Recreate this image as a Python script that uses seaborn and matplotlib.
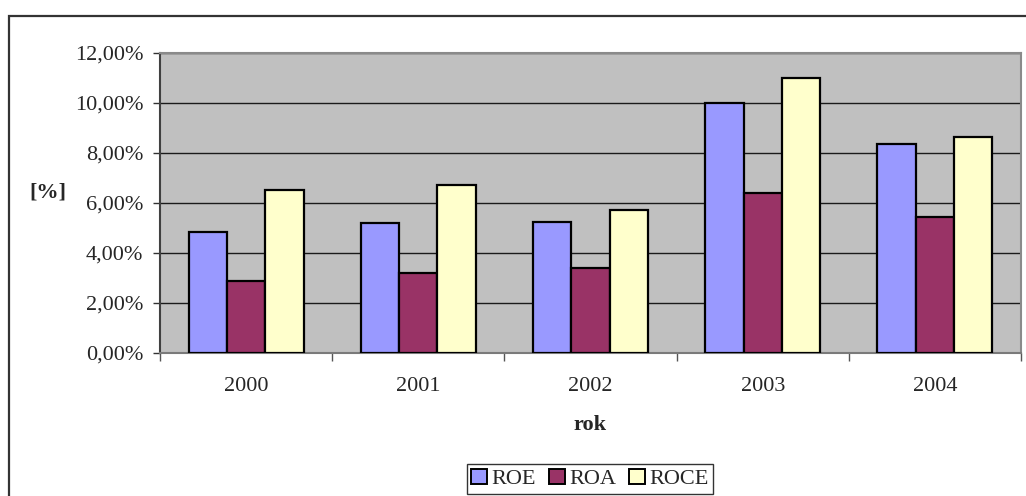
import matplotlib
matplotlib.use("Agg")
import matplotlib.pyplot as plt
from matplotlib.patches import Rectangle
from matplotlib.ticker import FuncFormatter, FixedLocator
import numpy as np
import pandas as pd
import seaborn as sns

# Financial ratios per year (in %)
years = ["2000", "2001", "2002", "2003", "2004"]
series = ["ROE", "ROA", "ROCE"]
roe = [4.83, 5.21, 5.23, 10.01, 8.36]
roa = [2.87, 3.21, 3.39, 6.39, 5.45]
roce = [6.51, 6.72, 5.73, 10.99, 8.64]
colors = ["#9999FF", "#993366", "#FFFFCC"]

df = pd.DataFrame({
    "rok": years * 3,
    "seria": [s for s in series for _ in years],
    "wartosc": roe + roa + roce,
})

sns.set_theme(style="white")
plt.rcParams["font.family"] = ["Liberation Serif", "DejaVu Serif"]
FS = 16

W, H = 1026, 496
fig = plt.figure(figsize=(W / 100, H / 100), dpi=100)
fig.patch.set_facecolor("white")

# outer chart-area frame (continues past the right and bottom edges)
fig.patches.append(Rectangle((9 / W, -0.2), 1.2, 1.2 - 16 / H,
                             transform=fig.transFigure, fill=False,
                             edgecolor="#333333", linewidth=1.6, zorder=0))

left, right, top, bottom = 160, 1021, 53, 353
ax = fig.add_axes([left / W, 1 - bottom / H, (right - left) / W, (bottom - top) / H])
ax.set_facecolor("#C0C0C0")

sns.barplot(data=df, x="rok", y="wartosc", hue="seria", palette=colors,
            width=0.667, gap=0, edgecolor="black", linewidth=1.6,
            saturation=1, ax=ax, legend=True, zorder=3)

ax.set_xlim(-0.5, 4.5)
ax.set_ylim(0, 12)
ax.set_yticks(np.arange(0, 12.01, 2))
ax.yaxis.set_major_formatter(FuncFormatter(lambda v, p: f"{v:.2f}".replace(".", ",") + "%"))
ax.grid(axis="y", color="#1a1a1a", linewidth=1.0, zorder=1)
ax.grid(axis="x", visible=False)
ax.set_axisbelow(True)

ax.tick_params(axis="y", which="major", direction="out", length=5, width=1,
               color="#333333", labelsize=FS, pad=7, left=True)
ax.tick_params(axis="x", which="major", length=0, labelsize=FS, pad=17)
ax.xaxis.set_minor_locator(FixedLocator(np.arange(-0.5, 4.6, 1)))
ax.tick_params(axis="x", which="minor", direction="out", length=6, width=1,
               color="#555555", bottom=True)

for side, col in [("left", "#404040"), ("top", "#8a8a8a"),
                  ("right", "#8a8a8a"), ("bottom", "#7a7a7a")]:
    ax.spines[side].set_visible(True)
    ax.spines[side].set_color(col)
    ax.spines[side].set_linewidth(1.5)

ax.set_xlabel("rok", fontsize=FS, fontweight="bold", labelpad=14)
ax.set_ylabel("[%]", fontsize=FS, fontweight="bold", rotation=0,
              labelpad=0)
ax.yaxis.set_label_coords(-0.13, 0.50)

handles, labels = ax.get_legend_handles_labels()
ax.get_legend().remove()
leg = fig.legend(handles, labels, loc="center",
                 bbox_to_anchor=(590 / W, 1 - 479 / H), ncol=3,
                 frameon=True, fancybox=False, fontsize=FS,
                 handlelength=0.7, handleheight=0.7, handletextpad=0.2,
                 columnspacing=0.6, borderpad=0.2, borderaxespad=0)
leg.get_frame().set_edgecolor("black")
leg.get_frame().set_linewidth(1.0)
for h in leg.legend_handles:
    h.set_edgecolor("black")
    h.set_linewidth(1.4)

fig.savefig("out.png", dpi=100)
